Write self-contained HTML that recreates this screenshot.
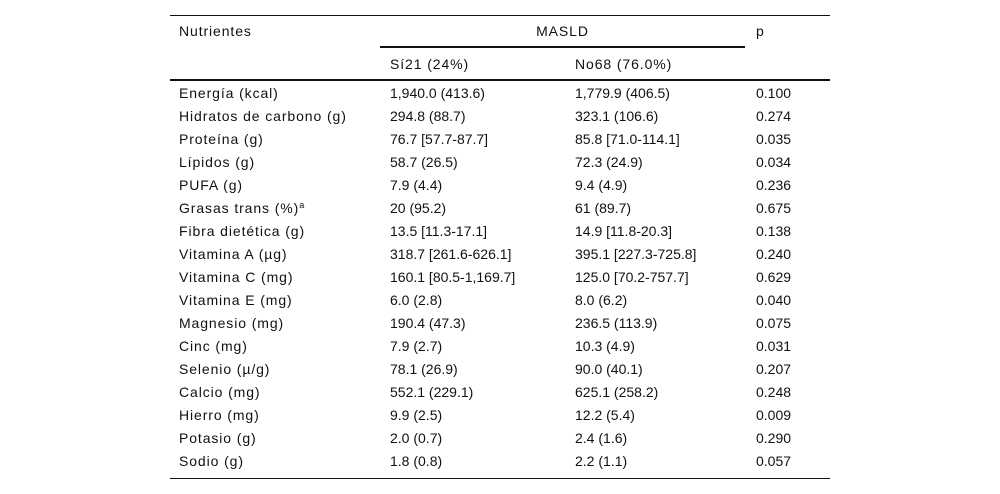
<!DOCTYPE html>
<html><head><meta charset="utf-8"><style>
body{margin:0;width:1000px;height:494px;background:#fff;font-family:"Liberation Sans",sans-serif;font-size:14px;color:#111;position:relative;overflow:hidden}
.t{position:absolute;white-space:nowrap;line-height:16px}
.w{letter-spacing:0.9px}
.l{position:absolute;background:#111}
sup{font-size:9px;vertical-align:5px;line-height:0}
</style></head><body>
<div class="l" style="left:170px;top:15px;width:660px;height:1px"></div>
<div class="t w" style="left:179px;top:23px">Nutrientes</div>
<div class="t w" style="left:380px;width:365px;text-align:center;top:23px">MASLD</div>
<div class="t" style="left:756px;top:23px">p</div>
<div class="l" style="left:380px;top:46px;width:365px;height:2px"></div>
<div class="t w" style="left:390px;top:56px">Sí21 (24%)</div>
<div class="t w" style="left:575px;top:56px">No68 (76.0%)</div>
<div class="l" style="left:170px;top:79px;width:660px;height:2px"></div>
<div id="rows"></div>
<div class="l" style="left:170px;top:478px;width:660px;height:1px"></div>
<script>
const names=["Energía (kcal)","Hidratos de carbono (g)","Proteína (g)","Lípidos (g)","PUFA (g)","Grasas trans (%)<sup>a</sup>","Fibra dietética (g)","Vitamina A (µg)","Vitamina C (mg)","Vitamina E (mg)","Magnesio (mg)","Cinc (mg)","Selenio (µ/g)","Calcio (mg)","Hierro (mg)","Potasio (g)","Sodio (g)"];
const si=["1,940.0 (413.6)","294.8 (88.7)","76.7 [57.7-87.7]","58.7 (26.5)","7.9 (4.4)","20 (95.2)","13.5 [11.3-17.1]","318.7 [261.6-626.1]","160.1 [80.5-1,169.7]","6.0 (2.8)","190.4 (47.3)","7.9 (2.7)","78.1 (26.9)","552.1 (229.1)","9.9 (2.5)","2.0 (0.7)","1.8 (0.8)"];
const no=["1,779.9 (406.5)","323.1 (106.6)","85.8 [71.0-114.1]","72.3 (24.9)","9.4 (4.9)","61 (89.7)","14.9 [11.8-20.3]","395.1 [227.3-725.8]","125.0 [70.2-757.7]","8.0 (6.2)","236.5 (113.9)","10.3 (4.9)","90.0 (40.1)","625.1 (258.2)","12.2 (5.4)","2.4 (1.6)","2.2 (1.1)"];
const pv=["0.100","0.274","0.035","0.034","0.236","0.675","0.138","0.240","0.629","0.040","0.075","0.031","0.207","0.248","0.009","0.290","0.057"];
const c=document.getElementById('rows');
names.forEach((n,i)=>{
  const top=85+i*23;
  [[179,n,'name'],[390,si[i],'si'],[575,no[i],'no'],[756,pv[i],'p']].forEach(([x,v,k])=>{
    const d=document.createElement('div');d.className='t'+(k==='name'?' w':'');
    
    
    d.style.left=x+'px';d.style.top=top+'px';d.innerHTML=v;c.appendChild(d);
  });
});
</script>
</body></html>
